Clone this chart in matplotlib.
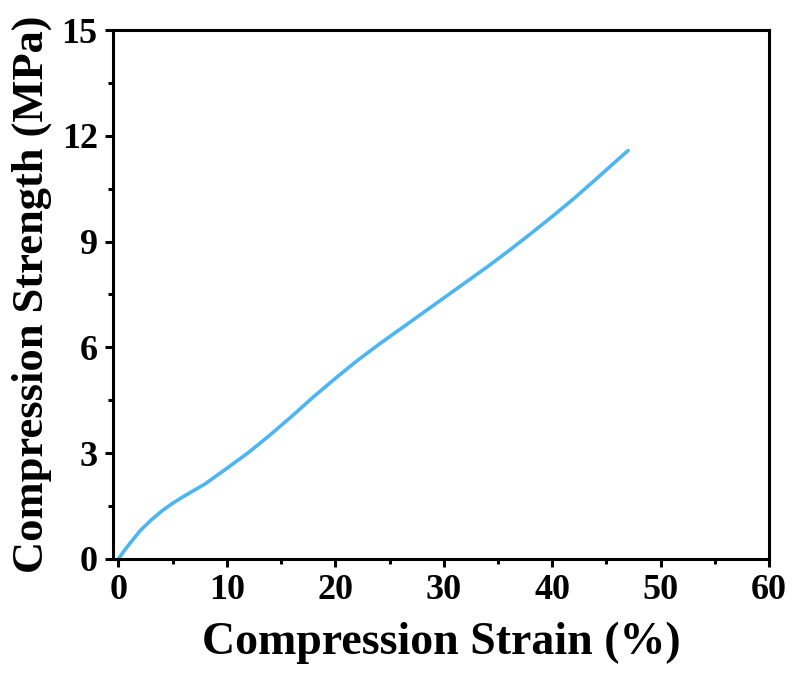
import matplotlib
matplotlib.use('Agg')
import matplotlib.pyplot as plt
from matplotlib.ticker import MultipleLocator

# values
strain = [0, 0.5, 1, 2, 3, 4, 5, 6, 7, 8, 10, 12, 14, 16, 18, 20, 22, 24,
          26, 28, 30, 32, 34, 36, 38, 40, 42, 44, 46, 47]
strength = [0.0, 0.22, 0.42, 0.80, 1.10, 1.36, 1.58, 1.77, 1.95, 2.13, 2.57,
            3.02, 3.52, 4.05, 4.60, 5.12, 5.62, 6.08, 6.52, 6.96, 7.40, 7.84,
            8.28, 8.74, 9.22, 9.71, 10.22, 10.76, 11.31, 11.58]

plt.rcParams['font.family'] = ['Liberation Serif', 'DejaVu Serif']
plt.rcParams['font.weight'] = 'bold'

fig = plt.figure(figsize=(7.92, 6.82), dpi=100)
ax = fig.add_axes([0.1427, 0.1804, 0.8283, 0.7756])

ax.plot(strain, strength, color='#4DB6F0', linewidth=2.6,
        solid_capstyle='round', solid_joinstyle='round')

ax.set_xlim(-0.5, 60)
ax.set_ylim(0, 15)
ax.xaxis.set_major_locator(MultipleLocator(10))
ax.xaxis.set_minor_locator(MultipleLocator(5))
ax.yaxis.set_major_locator(MultipleLocator(3))
ax.yaxis.set_minor_locator(MultipleLocator(1.5))

for s in ax.spines.values():
    s.set_linewidth(2.2)
ax.tick_params(which='major', direction='out', length=6, width=2.2, labelsize=26, pad=5)
ax.tick_params(which='minor', direction='out', length=3.5, width=2.2)
for lab in ax.get_xticklabels() + ax.get_yticklabels():
    lab.set_fontweight('bold')

ax.set_xlabel('Compression Strain (%)', fontsize=33, fontweight='bold', labelpad=10)
ax.set_ylabel('Compression Strength (MPa)', fontsize=32, fontweight='bold', labelpad=7)

fig.savefig('out.png', dpi=100)
